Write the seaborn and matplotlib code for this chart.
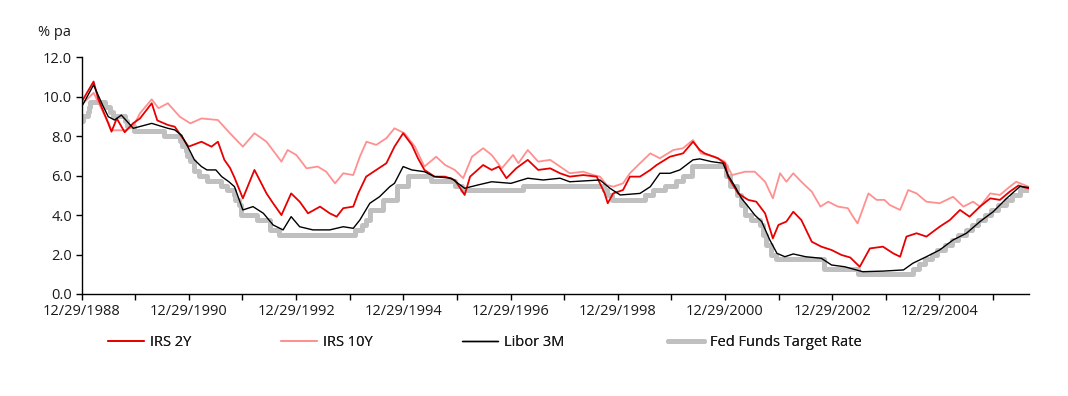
import matplotlib
matplotlib.use("Agg")
import matplotlib.pyplot as plt
import matplotlib.dates as mdates
import pandas as pd
import seaborn as sns

# values (% pa)
irs2y_dates = [
    "1988-12-29", "1989-03-20", "1989-04-20", "1989-06-28", "1989-07-20", "1989-08-25",
    "1989-10-18", "1989-12-15", "1990-01-30", "1990-04-20", "1990-05-28", "1990-08-08",
    "1990-09-24", "1990-11-10", "1990-12-27", "1991-03-25", "1991-06-01", "1991-07-15",
    "1991-08-28", "1991-10-05", "1991-11-05", "1992-01-01", "1992-03-20", "1992-06-10",
    "1992-07-25", "1992-09-20", "1992-11-25", "1993-01-22", "1993-03-20", "1993-06-10",
    "1993-08-15", "1993-10-01", "1993-11-15", "1994-01-22", "1994-02-25", "1994-04-20",
    "1994-06-28", "1994-09-05", "1994-10-30", "1994-12-28", "1995-02-25", "1995-04-08",
    "1995-05-22", "1995-07-30", "1995-10-10", "1995-12-15", "1996-02-20", "1996-03-28",
    "1996-06-25", "1996-08-22", "1996-10-10", "1996-12-01", "1997-02-05", "1997-04-25",
    "1997-07-05", "1997-09-25", "1997-12-01", "1998-02-05", "1998-05-08", "1998-08-08",
    "1998-10-01", "1998-10-22", "1998-11-28", "1999-02-03", "1999-03-22", "1999-05-30",
    "1999-08-08", "1999-09-20", "1999-12-20", "2000-03-18", "2000-05-25", "2000-07-10",
    "2000-08-12", "2000-11-10", "2000-12-28", "2001-01-18", "2001-03-28", "2001-06-05",
    "2001-07-30", "2001-09-28", "2001-11-20", "2001-12-28", "2002-02-20", "2002-04-08",
    "2002-06-02", "2002-08-12", "2002-10-16", "2002-12-25", "2003-03-02", "2003-05-01",
    "2003-07-05", "2003-09-12", "2003-12-10", "2004-02-18", "2004-04-05", "2004-05-18",
    "2004-07-26", "2004-10-01", "2004-12-30", "2005-03-10", "2005-05-18", "2005-07-22",
    "2005-10-01", "2005-12-10", "2006-02-14", "2006-04-22", "2006-06-20", "2006-08-28",
]
irs2y = [
    9.75, 10.77, 9.9, 8.65, 8.23, 8.9,
    8.2, 8.66, 8.9, 9.67, 8.8, 8.57,
    8.48, 7.98, 7.47, 7.72, 7.47, 7.72,
    6.8, 6.4, 5.9, 4.85, 6.29, 5.1,
    4.6, 4.0, 5.1, 4.68, 4.09, 4.43,
    4.09, 3.92, 4.35, 4.43, 5.1, 5.95,
    6.29, 6.63, 7.47, 8.15, 7.56, 6.88,
    6.29, 5.95, 5.95, 5.78, 5.02, 5.95,
    6.54, 6.29, 6.46, 5.87, 6.37, 6.8,
    6.29, 6.37, 6.12, 5.95, 6.03, 5.95,
    5.1, 4.6, 5.1, 5.27, 5.95, 5.95,
    6.29, 6.54, 6.96, 7.13, 7.72, 7.3,
    7.13, 6.88, 6.63, 5.95, 5.1, 4.77,
    4.68, 4.09, 2.82, 3.5, 3.67, 4.17,
    3.75, 2.65, 2.4, 2.23, 1.98, 1.85,
    1.38, 2.31, 2.4, 2.06, 1.89, 2.91,
    3.08, 2.91, 3.41, 3.75, 4.26, 3.92,
    4.43, 4.85, 4.77, 5.19, 5.5, 5.35,
]

irs10y_dates = [
    "1988-12-29", "1989-03-20", "1989-06-28", "1989-07-20", "1989-10-18", "1989-12-15",
    "1990-01-30", "1990-04-20", "1990-06-05", "1990-08-08", "1990-10-28", "1991-01-08",
    "1991-03-25", "1991-07-15", "1991-10-05", "1992-01-01", "1992-03-20", "1992-06-10",
    "1992-09-20", "1992-11-01", "1992-12-30", "1993-03-10", "1993-05-25", "1993-07-22",
    "1993-09-20", "1993-11-15", "1994-01-22", "1994-03-08", "1994-04-22", "1994-06-28",
    "1994-09-05", "1994-10-30", "1995-01-06", "1995-03-18", "1995-05-22", "1995-08-10",
    "1995-10-10", "1995-12-15", "1996-02-10", "1996-04-10", "1996-06-25", "1996-08-22",
    "1996-10-30", "1997-01-15", "1997-02-20", "1997-04-25", "1997-07-05", "1997-09-25",
    "1997-12-01", "1998-02-05", "1998-05-08", "1998-07-15", "1998-08-30", "1998-10-15",
    "1998-11-28", "1999-02-03", "1999-03-22", "1999-05-30", "1999-08-08", "1999-10-12",
    "2000-01-12", "2000-03-18", "2000-05-25", "2000-07-18", "2000-10-20", "2000-12-28",
    "2001-02-15", "2001-05-15", "2001-07-20", "2001-09-28", "2001-11-20", "2002-01-08",
    "2002-02-20", "2002-04-08", "2002-06-02", "2002-08-12", "2002-10-10", "2002-12-02",
    "2003-02-06", "2003-04-15", "2003-05-20", "2003-06-20", "2003-09-02", "2003-10-28",
    "2003-12-20", "2004-01-26", "2004-04-05", "2004-05-30", "2004-07-26", "2004-10-01",
    "2004-12-30", "2005-04-01", "2005-06-10", "2005-08-15", "2005-10-01", "2005-12-10",
    "2006-02-14", "2006-04-22", "2006-06-05", "2006-08-28",
]
irs10y = [
    9.6, 10.2, 8.7, 8.3, 8.3, 8.5,
    9.16, 9.87, 9.42, 9.67, 8.99, 8.65,
    8.9, 8.82, 8.15, 7.47, 8.15, 7.72,
    6.71, 7.3, 7.05, 6.37, 6.46, 6.2,
    5.61, 6.12, 6.03, 6.96, 7.72, 7.56,
    7.9, 8.4, 8.15, 7.47, 6.46, 6.96,
    6.54, 6.29, 5.87, 6.96, 7.39, 7.05,
    6.37, 7.05, 6.63, 7.3, 6.71, 6.8,
    6.46, 6.12, 6.2, 6.03, 5.95, 5.53,
    5.44, 5.61, 6.12, 6.63, 7.13, 6.88,
    7.3, 7.39, 7.81, 7.13, 6.96, 6.71,
    6.03, 6.2, 6.2, 5.69, 4.85, 6.12,
    5.69, 6.12, 5.69, 5.19, 4.43, 4.68,
    4.43, 4.35, 3.92, 3.58, 5.1, 4.77,
    4.77, 4.51, 4.26, 5.27, 5.1, 4.68,
    4.6, 4.93, 4.43, 4.68, 4.43, 5.1,
    5.02, 5.44, 5.69, 5.44,
]

libor_dates = [
    "1988-12-29", "1989-03-20", "1989-05-20", "1989-06-28", "1989-08-10", "1989-09-25",
    "1989-11-15", "1989-12-15", "1990-04-20", "1990-08-08", "1990-09-24", "1990-11-10",
    "1990-12-27", "1991-02-05", "1991-03-25", "1991-05-01", "1991-07-01", "1991-08-10",
    "1991-09-28", "1991-11-05", "1992-01-01", "1992-03-10", "1992-05-20", "1992-07-25",
    "1992-10-01", "1992-11-25", "1993-01-22", "1993-04-22", "1993-08-15", "1993-11-15",
    "1994-01-22", "1994-03-08", "1994-05-15", "1994-07-20", "1994-09-28", "1994-10-30",
    "1994-12-28", "1995-02-25", "1995-05-22", "1995-07-30", "1995-11-20", "1996-02-20",
    "1996-05-22", "1996-08-22", "1997-01-01", "1997-04-25", "1997-08-08", "1997-12-01",
    "1998-02-05", "1998-08-30", "1998-11-06", "1999-01-15", "1999-05-30", "1999-08-08",
    "1999-10-12", "1999-12-20", "2000-02-25", "2000-05-25", "2000-07-10", "2000-09-28",
    "2000-12-15", "2001-01-18", "2001-03-08", "2001-04-20", "2001-06-05", "2001-07-20",
    "2001-09-05", "2001-10-30", "2001-12-18", "2002-02-10", "2002-04-08", "2002-07-01",
    "2002-10-16", "2002-12-25", "2003-03-25", "2003-07-25", "2003-12-10", "2004-04-28",
    "2004-07-01", "2004-10-01", "2004-12-30", "2005-04-01", "2005-07-01", "2005-10-01",
    "2005-12-30", "2006-04-01", "2006-06-30", "2006-08-28",
]
libor = [
    9.5, 10.6, 9.58, 8.99, 8.82, 9.07,
    8.65, 8.4, 8.65, 8.4, 8.32, 8.04,
    7.39, 6.8, 6.46, 6.29, 6.29, 5.95,
    5.69, 5.44, 4.26, 4.43, 4.09, 3.5,
    3.25, 3.92, 3.41, 3.25, 3.25, 3.41,
    3.33, 3.75, 4.6, 4.93, 5.44, 5.61,
    6.46, 6.29, 6.2, 5.95, 5.87, 5.36,
    5.53, 5.69, 5.61, 5.87, 5.78, 5.87,
    5.69, 5.78, 5.36, 5.02, 5.1, 5.44,
    6.12, 6.12, 6.29, 6.8, 6.85, 6.71,
    6.63, 6.03, 5.44, 4.85, 4.43, 4.0,
    3.67, 2.74, 2.06, 1.89, 2.03, 1.89,
    1.81, 1.47, 1.38, 1.13, 1.16, 1.22,
    1.56, 1.89, 2.23, 2.74, 3.08, 3.67,
    4.17, 4.85, 5.45, 5.4,
]

fed_dates = [
    "1988-12-29", "1989-01-05", "1989-02-09", "1989-02-14", "1989-02-24", "1989-06-06",
    "1989-07-07", "1989-07-27", "1989-10-18", "1989-11-06", "1989-12-20", "1990-07-13",
    "1990-10-29", "1990-11-14", "1990-12-07", "1990-12-19", "1991-01-09", "1991-02-01",
    "1991-03-08", "1991-04-30", "1991-08-06", "1991-09-13", "1991-10-31", "1991-11-06",
    "1991-12-06", "1991-12-20", "1992-04-09", "1992-07-02", "1992-09-04", "1994-02-04",
    "1994-03-22", "1994-04-18", "1994-05-17", "1994-08-16", "1994-11-15", "1995-02-01",
    "1995-07-06", "1995-12-19", "1996-01-31", "1997-03-25", "1998-09-29", "1998-10-15",
    "1998-11-17", "1999-06-30", "1999-08-24", "1999-11-16", "2000-02-02", "2000-03-21",
    "2000-05-16", "2001-01-03", "2001-01-31", "2001-03-20", "2001-04-18", "2001-05-15",
    "2001-06-27", "2001-08-21", "2001-09-17", "2001-10-02", "2001-11-06", "2001-12-11",
    "2002-11-06", "2003-06-25", "2004-06-30", "2004-08-10", "2004-09-21", "2004-11-10",
    "2004-12-14", "2005-02-02", "2005-03-22", "2005-05-03", "2005-06-30", "2005-08-09",
    "2005-09-20", "2005-11-01", "2005-12-13", "2006-01-31", "2006-03-28", "2006-05-10",
    "2006-06-29", "2006-08-28",
]
fed_rate = [
    8.75, 9.0, 9.25, 9.5, 9.75, 9.5,
    9.25, 9.0, 8.75, 8.5, 8.25, 8.0,
    7.75, 7.5, 7.25, 7.0, 6.75, 6.25,
    6.0, 5.75, 5.5, 5.25, 5.0, 4.75,
    4.5, 4.0, 3.75, 3.25, 3.0, 3.25,
    3.5, 3.75, 4.25, 4.75, 5.5, 6.0,
    5.75, 5.5, 5.25, 5.5, 5.25, 5.0,
    4.75, 5.0, 5.25, 5.5, 5.75, 6.0,
    6.5, 6.0, 5.5, 5.0, 4.5, 4.0,
    3.75, 3.5, 3.0, 2.5, 2.0, 1.75,
    1.25, 1.0, 1.25, 1.5, 1.75, 2.0,
    2.25, 2.5, 2.75, 3.0, 3.25, 3.5,
    3.75, 4.0, 4.25, 4.5, 4.75, 5.0,
    5.25, 5.25,
]

major_years = list(range(1988, 2005, 2))
minor_years = list(range(1989, 2006, 2))


def frame(dates, vals):
    return pd.DataFrame({"date": pd.to_datetime(dates), "rate": vals})


sns.set_style("ticks")
plt.rcParams["font.family"] = ["Open Sans", "DejaVu Sans"]
plt.rcParams["font.size"] = 10.5

fig = plt.figure(figsize=(10.68, 3.96), dpi=100)
ax = fig.add_axes([0.0765, 0.2576, 0.8867, 0.5977])

sns.lineplot(data=frame(fed_dates, fed_rate), x="date", y="rate", ax=ax,
             color="#c0c0c0", lw=3.6, drawstyle="steps-post", errorbar=None,
             label="Fed Funds Target Rate")
sns.lineplot(data=frame(irs10y_dates, irs10y), x="date", y="rate", ax=ax,
             color="#ff9090", lw=1.3, errorbar=None, label="IRS 10Y")
sns.lineplot(data=frame(irs2y_dates, irs2y), x="date", y="rate", ax=ax,
             color="#e80000", lw=1.3, errorbar=None, label="IRS 2Y")
sns.lineplot(data=frame(libor_dates, libor), x="date", y="rate", ax=ax,
             color="black", lw=1.0, errorbar=None, label="Libor 3M")

if ax.get_legend() is not None:
    ax.get_legend().remove()

ax.set_xlim(pd.Timestamp("1988-12-29"), pd.Timestamp("2006-08-29"))
ax.set_ylim(0, 12)
ax.set_yticks([0, 2, 4, 6, 8, 10, 12])
ax.yaxis.set_major_formatter(matplotlib.ticker.FormatStrFormatter("%.1f"))

ax.set_xticks([pd.Timestamp(f"{y}-12-29") for y in major_years])
ax.set_xticks([pd.Timestamp(f"{y}-12-29") for y in minor_years], minor=True)
ax.xaxis.set_major_formatter(mdates.DateFormatter("%m/%d/%Y"))

ax.set_xlabel("")
ax.set_ylabel("")
for side in ["top", "right"]:
    ax.spines[side].set_visible(False)
for side in ["left", "bottom"]:
    ax.spines[side].set_color("black")
    ax.spines[side].set_linewidth(1.0)
ax.tick_params(which="both", direction="out", length=4, width=1, color="black",
               labelsize=10.5, labelcolor="#1a1a1a", pad=3)

fig.text(38 / 1068, 1 - 33 / 396, "% pa", fontsize=10.5, color="#1a1a1a", va="center")

# legend entries sit at uneven positions below the axis, one small legend each
handles, labels = ax.get_legend_handles_labels()
hmap = dict(zip(labels, handles))
legend_x = {"IRS 2Y": 108, "IRS 10Y": 281, "Libor 3M": 462, "Fed Funds Target Rate": 668}
for name, px in legend_x.items():
    leg = fig.legend([hmap[name]], [name], loc="center left",
                     bbox_to_anchor=(px / 1068, 1 - 343 / 396), frameon=False,
                     handlelength=2.5, handletextpad=0.35, borderpad=0,
                     borderaxespad=0, fontsize=10.5, labelcolor="#1a1a1a")
    fig.add_artist(leg)

fig.savefig("out.png", dpi=100)
